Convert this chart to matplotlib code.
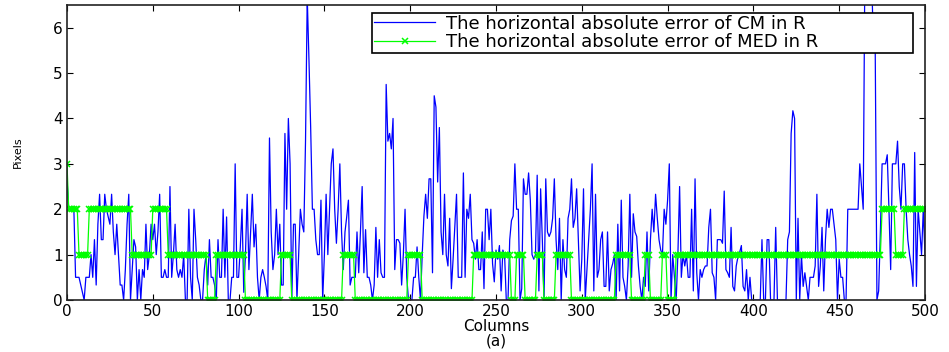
import numpy as np
import matplotlib
matplotlib.use("Agg")
import matplotlib.pyplot as plt

plt.rcParams['font.family'] = ['DejaVu Sans']

# horizontal absolute error of CM, one value per column (0..500)
cm_err = [
    2.67, 2.0, 2.0, 2.0, 2.0, 0.5, 0.5, 0.5, 0.33, 0.17,
    0, 0.5, 0.5, 0.5, 1.0, 0.5, 1.33, 0.33, 1.67, 2.33,
    1.33, 1.33, 2.33, 2.0, 1.83, 1.67, 2.33, 1.5, 1.0, 1.67,
    1.0, 0.33, 0.33, 0, 0.67, 1.67, 2.33, 0, 0.67, 1.33,
    1.17, 0, 0.67, 0, 0.67, 0.5, 1.67, 0.67, 1.0, 1.67,
    1.33, 1.67, 1.0, 1.5, 2.33, 0.5, 0.5, 0.67, 0.5, 0.5,
    2.5, 0.5, 1.0, 1.67, 0.67, 0.5, 0.67, 0.5, 1.0, 0,
    0, 2.0, 0.5, 0, 2.0, 1.33, 0.5, 0.33, 0, 0,
    0.67, 1.0, 0.33, 1.33, 0.5, 0.5, 0.33, 0, 1.33, 0.5,
    0.5, 2.0, 0.5, 1.83, 0, 0, 0.5, 0.5, 3.0, 0.5,
    0.5, 1.17, 2.0, 0.17, 1.0, 2.33, 0.67, 1.5, 2.33, 1.17,
    1.67, 0.5, 0, 0.5, 0.67, 0.5, 0.3, 0, 3.57, 1.5,
    0.67, 1.0, 2.0, 1.0, 1.67, 0.33, 0.33, 3.67, 2.0, 4.0,
    3.0, 0, 1.67, 1.67, 0, 1.0, 2.0, 1.67, 1.5, 3.5,
    6.67, 5.3, 3.8, 2.0, 2.0, 1.33, 1.0, 1.0, 2.2, 0,
    1.0, 2.33, 1.0, 2.0, 3.0, 3.33, 2.0, 1.25, 2.0, 3.0,
    1.5, 0.67, 1.5, 1.83, 2.2, 0.33, 0.5, 0.5, 0.5, 1.5,
    0.6, 1.5, 2.5, 0.6, 1.55, 0.5, 0.5, 0.33, 0, 0.33,
    1.6, 0.5, 1.33, 0.6, 0.5, 0.5, 4.75, 3.5, 3.67, 3.33,
    4.0, 0.67, 1.33, 1.33, 1.25, 0.33, 1.0, 2.0, 0.5, 0,
    0, 0, 0.5, 0.5, 1.17, 0.5, 0, 1.0, 1.85, 2.33,
    1.8, 2.67, 2.67, 0.6, 4.5, 4.25, 2.6, 3.8, 1.5, 1.0,
    2.33, 1.0, 0.75, 1.8, 0.25, 0.9, 1.6, 2.33, 0.5, 0.5,
    0.5, 2.8, 0.5, 2.0, 1.8, 2.33, 1.33, 1.25, 0.9, 1.33,
    0.67, 0.67, 1.5, 0.25, 2.0, 2.0, 1.33, 2.0, 0.8, 0.4,
    1.1, 0.9, 1.2, 0.2, 1.1, 1.0, 0, 0, 1.33, 1.75,
    1.85, 3.0, 2.0, 2.0, 0, 0.25, 2.67, 2.33, 2.33, 2.8,
    2.2, 1.0, 0.9, 1.0, 2.75, 0.2, 2.45, 1.33, 0, 2.67,
    1.5, 1.4, 1.5, 1.8, 2.67, 1.33, 0.67, 1.8, 0, 1.33,
    0.67, 0.5, 1.8, 2.0, 2.67, 1.6, 1.8, 2.45, 1.33, 0.2,
    0.9, 2.45, 0, 0.67, 1.33, 2.0, 3.0, 0.2, 2.33, 0.5,
    0.67, 1.33, 1.5, 0.3, 0.3, 1.5, 0.2, 0.67, 0.8, 1.0,
    0, 1.67, 0.2, 2.2, 0.5, 0.3, 0, 0.75, 2.33, 0.5,
    1.9, 1.5, 1.4, 0.75, 0.3, 0, 0.5, 0.3, 1.5, 0.2,
    1.33, 2.0, 1.5, 2.33, 1.8, 1.33, 1.1, 1.0, 2.0, 1.67,
    2.2, 3.0, 0, 1.0, 0.5, 0, 1.0, 2.5, 0.5, 1.0,
    0.75, 1.0, 0.5, 0.5, 2.0, 0.2, 2.67, 0.6, 0, 0.67,
    0.5, 0.67, 0.75, 0.75, 1.6, 2.0, 0.6, 0.5, 0, 1.33,
    1.33, 1.33, 1.25, 2.4, 0.67, 0.6, 0.5, 1.6, 0.3, 0.2,
    0.75, 0.95, 1.05, 1.2, 0.3, 0.2, 0.67, 0, 0.5, 0,
    0, 0, 0, 0, 0, 1.33, 0, 0, 1.33, 1.33,
    0, 0, 0, 1.6, 0, 0, 0, 0, 0, 0,
    1.33, 1.5, 3.67, 4.17, 4.0, 0, 1.8, 0, 1.0, 0.3,
    0.6, 0.3, 0, 0.5, 0.5, 0.5, 0.75, 2.33, 0.3, 0.75,
    1.6, 0.2, 1.33, 2.0, 1.6, 2.0, 2.0, 1.67, 1.33, 0,
    0.9, 0.5, 0.5, 0, 0, 2.0, 2.0, 2.0, 2.0, 2.0,
    2.0, 2.0, 3.0, 2.5, 2.0, 7.5, 8.0, 8.0, 7.5, 7.0,
    5.5, 5.5, 0, 0.2, 1.5, 3.0, 3.0, 3.0, 3.2, 2.0,
    0.67, 3.0, 3.0, 3.0, 3.5, 2.5, 2.0, 3.0, 3.0, 2.0,
    1.33, 1.0, 0.75, 0.3, 3.25, 0.3, 2.0, 1.5, 1.0, 2.0,
    1.0,
]

# MED error is a step signal: levels and how many columns each level lasts
med_levels = [3, 2, 1, 2, 1, 2, 1, 0, 1, 0, 1, 0, 1, 0, 1, 0, 1,
              0, 1, 0, 1, 0, 1, 0, 1, 0, 1, 0, 1, 0, 1, 2, 1, 2]
med_runs = [1, 6, 6, 25, 12, 9, 23, 5, 17, 21, 6, 30, 7, 31, 8, 30, 22,
            3, 5, 7, 4, 7, 9, 26, 9, 8, 3, 7, 3, 5, 120, 8, 5, 13]

x_ticks = [0, 50, 100, 150, 200, 250, 300, 350, 400, 450, 500]
y_ticks = [0, 1, 2, 3, 4, 5, 6]

cols = np.arange(len(cm_err))
med_err = np.repeat(med_levels, med_runs)

fig = plt.figure(figsize=(9.49, 3.52), dpi=100)
ax = fig.add_axes([0.0706, 0.1477, 0.9041, 0.8381])

ax.plot(cols, cm_err, color=(0, 0, 1), lw=0.9,
        label='The horizontal absolute error of CM in R')
ax.plot(cols, med_err, color=(0, 1, 0), lw=0.9, marker='x', ms=4, mew=1.1,
        label='The horizontal absolute error of MED in R')

ax.set_xlim(0, 500)
ax.set_ylim(0, 6.5)
ax.set_xticks(x_ticks)
ax.set_yticks(y_ticks)
ax.tick_params(direction='in', top=True, right=True, length=4, width=0.8,
               labelsize=11, pad=3)
for s in ax.spines.values():
    s.set_linewidth(1.2)
    s.set_color('#222222')

ax.set_xlabel('Columns\n(a)', fontsize=11, labelpad=0, linespacing=0.95)
ax.set_ylabel('Pixels', fontsize=8, labelpad=22)

# legend box stretched over the upper-right part of the axes
leg = ax.legend(loc='upper left', bbox_to_anchor=(0.3555, 0.851, 0.6305, 0.122),
                mode='expand', borderaxespad=0, fontsize=13, numpoints=1,
                handlelength=3.4, fancybox=False, framealpha=1,
                edgecolor='black', borderpad=0.1, labelspacing=0.02,
                handletextpad=0.6)
leg.get_frame().set_linewidth(1.2)

fig.savefig('out.png', dpi=100)
